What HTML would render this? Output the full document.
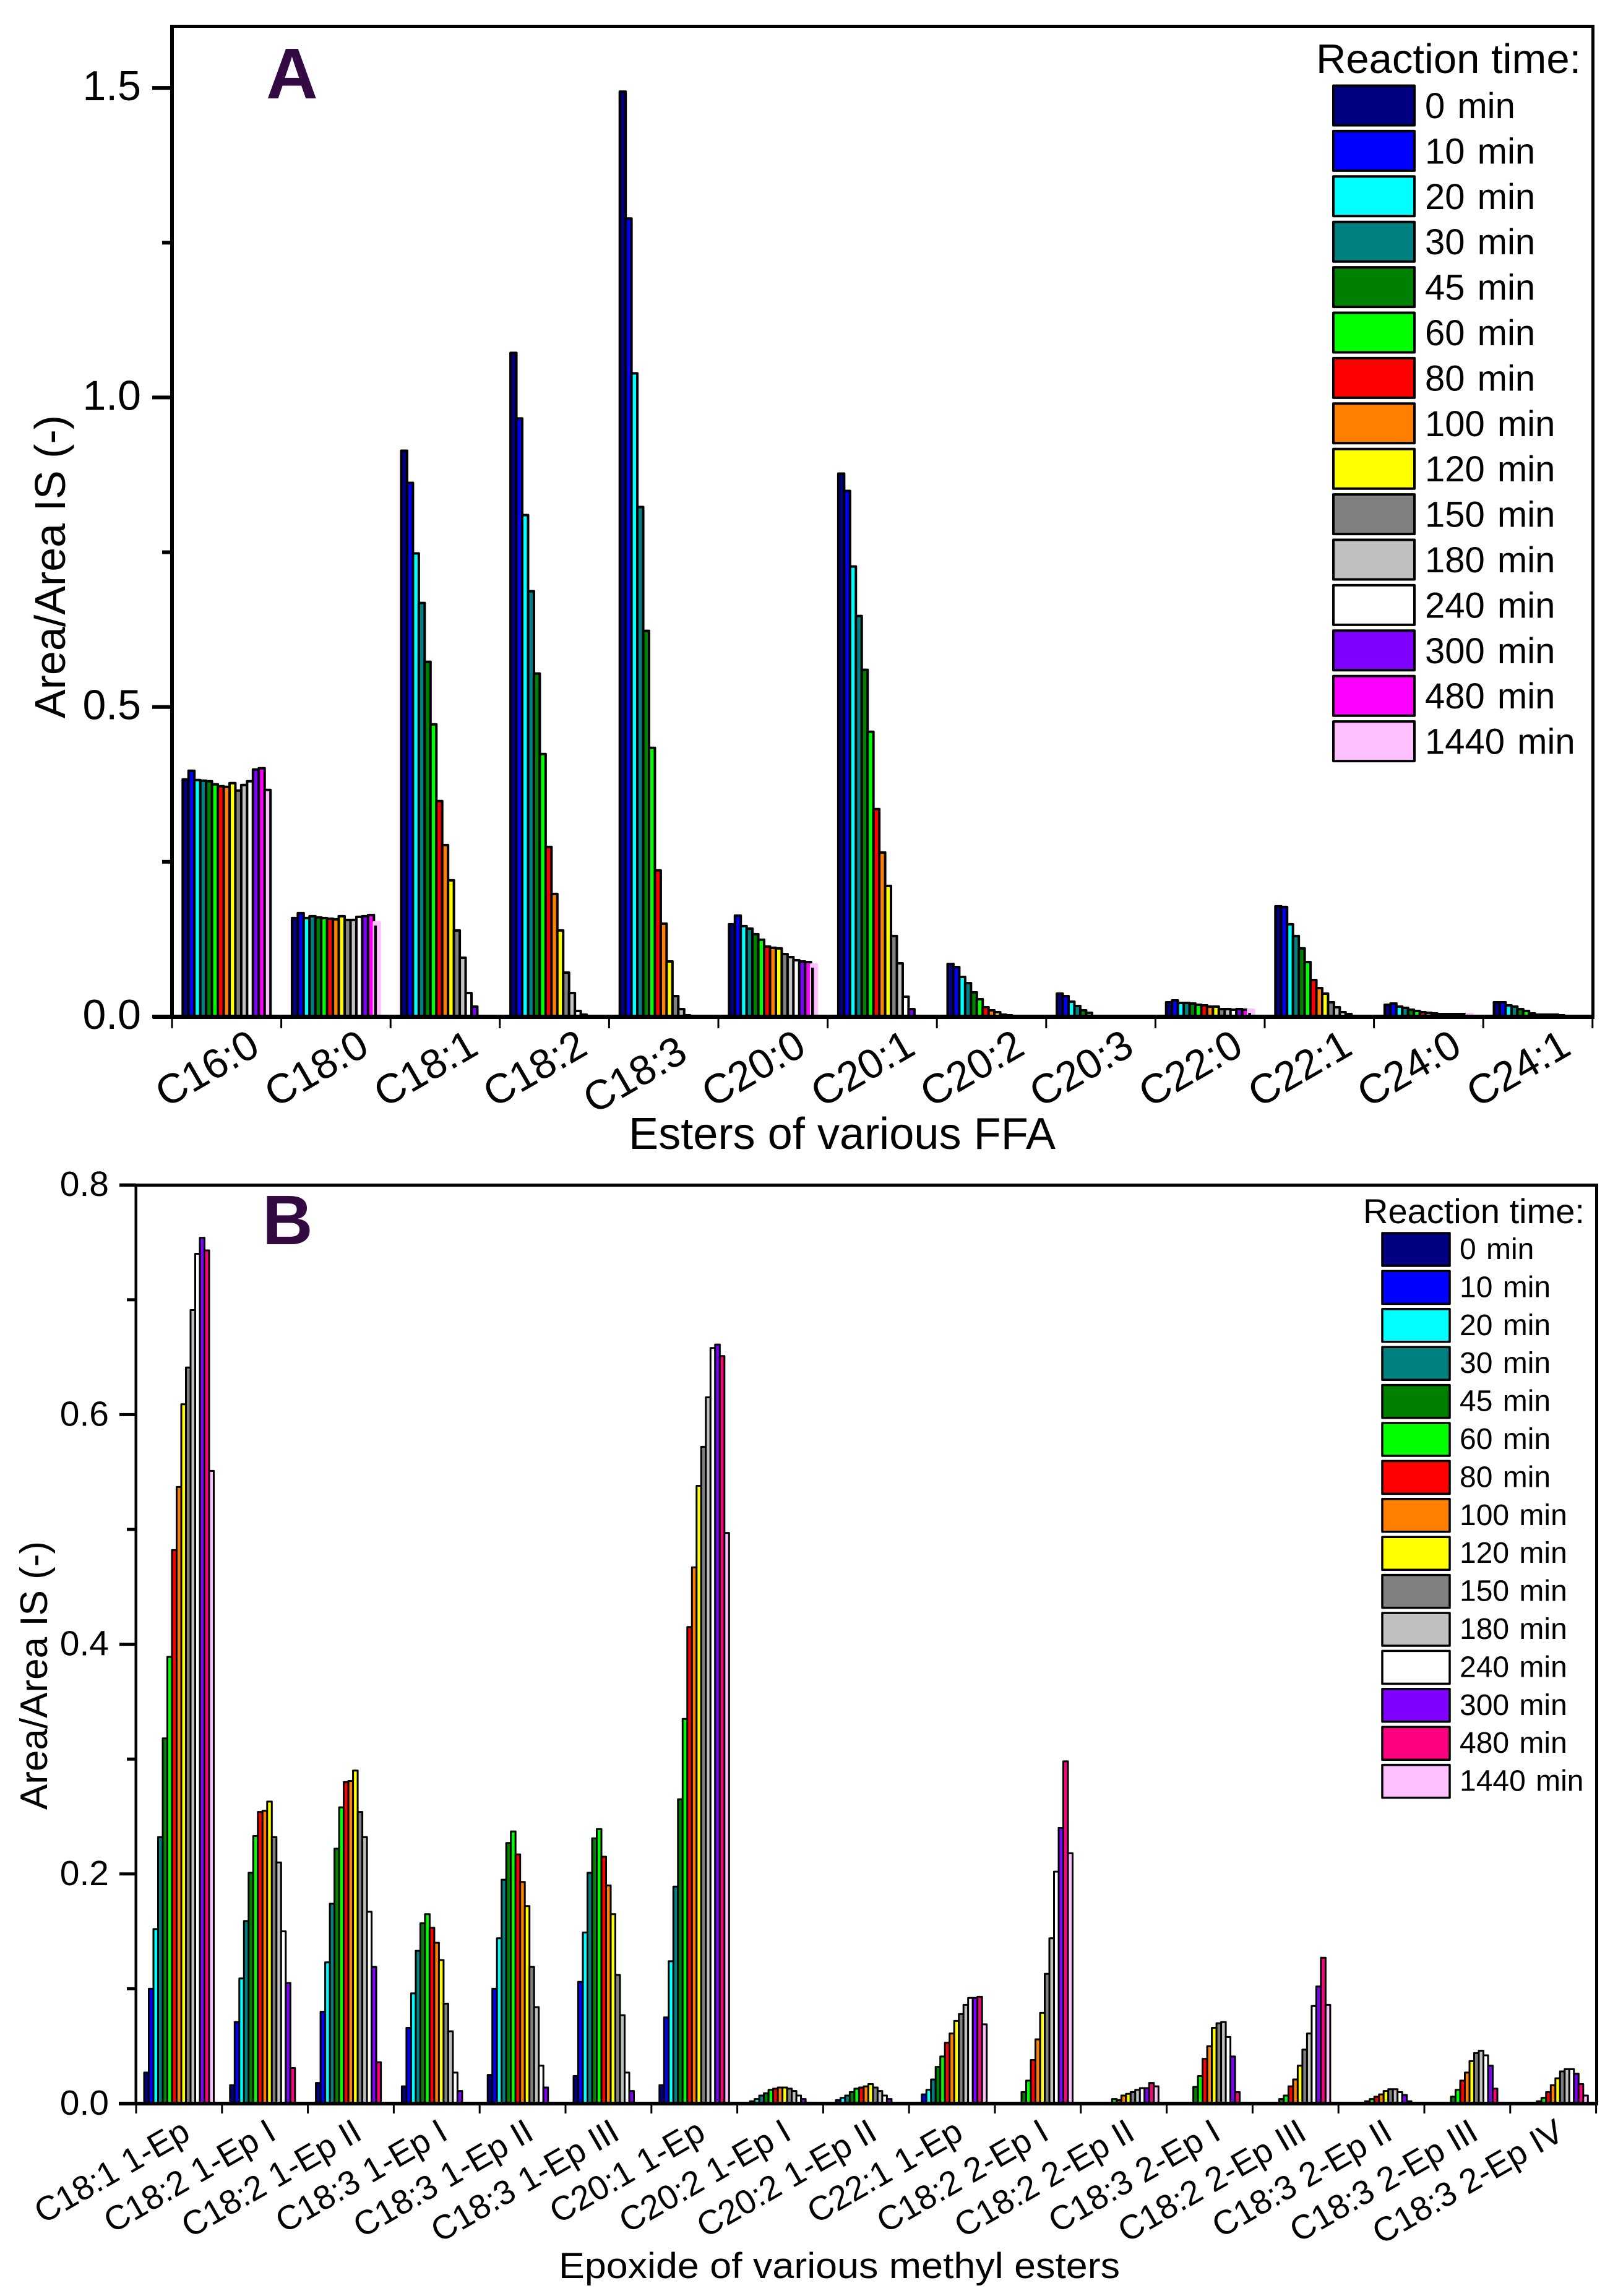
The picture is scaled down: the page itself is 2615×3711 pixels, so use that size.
<!DOCTYPE html>
<html lang="en">
<head>
<meta charset="utf-8">
<title>Reaction time bar charts</title>
<style>
html,body{margin:0;padding:0;background:#fff;}
svg{display:block;}
text{font-family:"Liberation Sans",Arial,sans-serif;fill:#000;}
</style>
</head>
<body>
<svg id="chart" xmlns="http://www.w3.org/2000/svg" width="2615" height="3711" viewBox="0 0 2615 3711">
  <rect x="0" y="0" width="2615" height="3711" fill="#ffffff"/>
  <g id="panelA">
    <g id="barsA"></g>
    <rect x="275" y="40" width="2302" height="5" fill="#000"/>
    <rect x="2572" y="40" width="5" height="1606" fill="#000"/>
    <rect x="275" y="40" width="6" height="1606" fill="#000"/>
    <rect x="247" y="1640" width="2330" height="7" fill="#000"/>
    <g id="axesA"></g>
    <text x="430" y="159" font-size="116" font-weight="bold" style="fill:#340a42">A</text>
    <text x="1016" y="1857" font-size="72" textLength="690" lengthAdjust="spacingAndGlyphs">Esters of various FFA</text>
    <text transform="translate(105 916) rotate(-90)" text-anchor="middle" font-size="70">Area/Area IS (-)</text>
    <text x="2127" y="118" font-size="67">Reaction time:</text>
    <g id="legendA"></g>
  </g>
  <g id="panelB">
    <g id="barsB"></g>
    <rect x="193" y="1913" width="2390" height="5" fill="#000"/>
    <rect x="2578" y="1913" width="5" height="1490" fill="#000"/>
    <rect x="217.5" y="1913" width="4.5" height="1490" fill="#000"/>
    <rect x="192" y="3397" width="2391" height="6" fill="#000"/>
    <g id="axesB"></g>
    <text x="424" y="2011" font-size="113" font-weight="bold" style="fill:#340a42">B</text>
    <text x="903" y="3682" font-size="58" textLength="907" lengthAdjust="spacingAndGlyphs">Epoxide of various methyl esters</text>
    <text transform="translate(76 2708) rotate(-90)" text-anchor="middle" font-size="62">Area/Area IS (-)</text>
    <text x="2203" y="1977" font-size="56">Reaction time:</text>
    <g id="legendB"></g>
  </g>
</svg>
<script>
const times = ["0 min","10 min","20 min","30 min","45 min","60 min","80 min","100 min","120 min","150 min","180 min","240 min","300 min","480 min","1440 min"];
const coloursA = ["#000080","#0000ff","#00ffff","#008080","#008000","#00ff00","#ff0000","#ff8000","#ffff00","#808080","#c0c0c0","#ffffff","#8000ff","#ff00ff","#ffc0ff"];
const coloursB = ["#000080","#0000ff","#00ffff","#008080","#008000","#00ff00","#ff0000","#ff8000","#ffff00","#808080","#c0c0c0","#ffffff","#8000ff","#ff0080","#ffc0ff"];

const categoriesA = ["C16:0","C18:0","C18:1","C18:2","C18:3","C20:0","C20:1","C20:2","C20:3","C22:0","C22:1","C24:0","C24:1"];
const ticksMajorA = [0,0.5,1,1.5];
const ticksMinorA = [0.25,0.75,1.25];
const tickLabelsA = ["0.0","0.5","1.0","1.5"];
const a_C16_0 = [.383,.397,.382,.381,.380,.375,.372,.371,.377,.365,.374,.380,.399,.401,.366];
const a_C18_0 = [.159,.167,.159,.162,.160,.159,.158,.157,.162,.156,.156,.161,.162,.164,.152];
const a_C18_1 = [.914,.862,.748,.668,.573,.472,.348,.277,.220,.139,.095,.038,.016,0,0];
const a_C18_2 = [1.072,.966,.81,.687,.554,.424,.274,.198,.139,.071,.038,.009,.003,0,0];
const a_C18_3 = [1.494,1.289,1.039,.823,.623,.434,.236,.150,.089,.033,.012,.002,0,0,0];
const a_C20_0 = [.149,.163,.146,.142,.133,.124,.113,.111,.110,.101,.096,.091,.089,.088,.084];
const a_C20_1 = [.877,.849,.727,.647,.560,.460,.335,.265,.211,.130,.086,.032,.012,0,0];
const a_C20_2 = [.085,.080,.064,.054,.039,.028,.015,.010,.007,.003,.002,.001,0,0,0];
const a_C20_3 = [.037,.033,.024,.017,.010,.006,.001,0,0,0,0,0,0,0,0];
const a_C22_0 = [.023,.026,.022,.022,.021,.019,.018,.016,.016,.012,.012,.011,.012,.011,.011];
const a_C22_1 = [.178,.177,.149,.130,.110,.088,.059,.046,.037,.023,.015,.007,.004,.001,0];
const a_C24_0 = [.019,.021,.016,.014,.011,.009,.007,.006,.005,.004,.004,.004,.004,.004,.004];
const a_C24_1 = [.023,.023,.018,.016,.012,.009,.005,.003,.003,.003,.003,.002,0,0,0];
const seriesA = [a_C16_0,a_C18_0,a_C18_1,a_C18_2,a_C18_3,a_C20_0,a_C20_1,a_C20_2,a_C20_3,a_C22_0,a_C22_1,a_C24_0,a_C24_1];
const paleOutlineCategoriesA = ["C18:0","C20:0","C22:0","C24:0"];

const categoriesB = ["C18:1 1-Ep","C18:2 1-Ep I","C18:2 1-Ep II","C18:3 1-Ep I","C18:3 1-Ep II","C18:3 1-Ep III","C20:1 1-Ep","C20:2 1-Ep I","C20:2 1-Ep II","C22:1 1-Ep","C18:2 2-Ep I","C18:2 2-Ep II","C18:3 2-Ep I","C18:2 2-Ep III","C18:3 2-Ep II","C18:3 2-Ep III","C18:3 2-Ep IV"];
const ticksMajorB = [0,0.2,0.4,0.6,0.8];
const ticksMinorB = [0.1,0.3,0.5,0.7];
const tickLabelsB = ["0.0","0.2","0.4","0.6","0.8"];
const b_18_1_1 = [.027,.100,.152,.232,.318,.389,.482,.537,.609,.641,.691,.740,.754,.743,.551];
const b_18_2_1a = [.016,.071,.109,.159,.201,.233,.254,.255,.263,.232,.210,.150,.105,.031,0];
const b_18_2_1b = [.018,.080,.123,.174,.222,.258,.280,.281,.290,.254,.232,.167,.119,.036,0];
const b_18_3_1a = [.015,.066,.096,.133,.157,.165,.153,.140,.125,.087,.063,.027,.011,0,0];
const b_18_3_1b = [.025,.100,.144,.195,.227,.237,.217,.193,.172,.119,.084,.033,.014,0,0];
const b_18_3_1c = [.024,.106,.149,.201,.231,.239,.215,.190,.165,.112,.077,.027,.011,0,0];
const b_20_1_1 = [.016,.075,.124,.189,.265,.335,.415,.467,.538,.572,.615,.658,.661,.651,.497];
const b_20_2_1a = [0,.002,.004,.007,.009,.012,.013,.014,.014,.013,.011,.007,.004,0,0];
const b_20_2_1b = [0,.003,.005,.007,.010,.013,.014,.015,.017,.014,.011,.007,.004,0,0];
const b_22_1_1 = [0,.008,.012,.021,.032,.041,.053,.061,.072,.078,.086,.092,.092,.093,.069];
const b_18_2_2a = [0,0,0,0,.010,.020,.038,.056,.079,.113,.144,.202,.240,.298,.218];
const b_18_2_2b = [0,0,0,0,0,.004,.003,.007,.0085,.010,.012,.0135,.0135,.018,.015];
const b_18_3_2a = [0,0,0,0,.0145,.024,.039,.050,.066,.070,.071,.058,.041,.010,0];
const b_18_2_2c = [0,0,0,0,.004,.007,.015,.021,.033,.047,.061,.085,.102,.127,.086];
const b_18_3_2b = [0,0,0,0,.002,.004,.006,.008,.011,.0125,.0125,.010,.0075,.002,0];
const b_18_3_2c = [0,0,0,0,.006,.012,.020,.027,.037,.044,.046,.042,.033,.013,0];
const b_18_3_2d = [0,0,0,0,.002,.005,.010,.016,.022,.028,.030,.030,.026,.017,.007];
const seriesB = [b_18_1_1,b_18_2_1a,b_18_2_1b,b_18_3_1a,b_18_3_1b,b_18_3_1c,b_20_1_1,b_20_2_1a,b_20_2_1b,b_22_1_1,b_18_2_2a,b_18_2_2b,b_18_3_2a,b_18_2_2c,b_18_3_2b,b_18_3_2c,b_18_3_2d];

const NS = "http://www.w3.org/2000/svg";
function make(tag, parent, attrs, text) {
  const el = document.createElementNS(NS, tag);
  for (const k in attrs) el.setAttribute(k, attrs[k]);
  if (text !== undefined) el.textContent = text;
  parent.appendChild(el);
  return el;
}

/* axis functions */
const baseA = 1643, unitA = 1000.6, leftA = 278, stepA = 176.6, barOffsetA = 17.3, barWA = 9.46;
const baseB = 3400, unitB = 1856, leftB = 220, stepB = 138.8, barOffsetB = 13, barWB = 7.5;
const yA = v => baseA - v * unitA;
const yB = v => baseB - v * unitB;
const catA = i => leftA + stepA * i;
const catB = i => leftB + stepB * i;
const barXA = (i, j) => catA(i) + barOffsetA + j * barWA;
const barXB = (i, j) => catB(i) + barOffsetB + j * barWB;

/* Panel A bars */
const barsA = document.getElementById("barsA");
seriesA.forEach((vals, i) => {
  vals.forEach((v, j) => {
    if (v <= 0) return;
    const pale = j === 14 && paleOutlineCategoriesA.includes(categoriesA[i]);
    const el = make("rect", barsA, {
      x: barXA(i, j), y: yA(v), width: barWA, height: baseA - yA(v),
      fill: coloursA[j], stroke: pale ? coloursA[14] : "#000", "stroke-width": 4, "stroke-linejoin": "round"
    });
    
    
    if (pale) {
      const inner = make("line", barsA, {
        x1: barXA(i, j) + 2.5, x2: barXA(i, j) + 2.5, y1: yA(v) + 5, y2: baseA,
        stroke: "#000", "stroke-width": 4.5
      });
      
      
    }
  });
});

/* Panel B bars */
const barsB = document.getElementById("barsB");
seriesB.forEach((vals, i) => {
  vals.forEach((v, j) => {
    if (v <= 0) return;
    const el = make("rect", barsB, {
      x: barXB(i, j), y: yB(v), width: barWB, height: baseB - yB(v),
      fill: coloursB[j], stroke: "#000", "stroke-width": 3, "stroke-linejoin": "round"
    });
    
    
  });
});

/* Panel A axes */
const axesA = document.getElementById("axesA");
ticksMajorA.forEach((v, k) => {
  const t = make("rect", axesA, {x: 246, y: yA(v) - 3, width: 32, height: 6, fill: "#000"});
  
  
  const l = make("text", axesA, {x: 228, y: yA(v) + 20, "text-anchor": "end", "font-size": 68}, tickLabelsA[k]);
  
  
});
ticksMinorA.forEach(v => {
  const t = make("rect", axesA, {x: 262, y: yA(v) - 3, width: 16, height: 6, fill: "#000"});
  
  
});
for (let i = 0; i <= categoriesA.length; i++) {
  const t = make("rect", axesA, {x: catA(i) - 1.5, y: 1646, width: 3, height: 16, fill: "#000"});
  
  
}
categoriesA.forEach((c, i) => {
  const shift = c === "C18:3";
  const x = catA(i + 0.5) + 57 - (shift ? 15 : 0);
  const y = 1702 + (shift ? 10 : 0);
  const l = make("text", axesA, {transform: "translate(" + x + " " + y + ") rotate(-30)", "text-anchor": "end", "font-size": 67}, c);
  
  
});

/* Panel B axes */
const axesB = document.getElementById("axesB");
ticksMajorB.forEach((v, k) => {
  const t = make("rect", axesB, {x: 193, y: yB(v) - 2.5, width: 27, height: 5, fill: "#000"});
  
  
  const l = make("text", axesB, {x: 176, y: yB(v) + 18, "text-anchor": "end", "font-size": 57}, tickLabelsB[k]);
  
  
});
ticksMinorB.forEach(v => {
  const t = make("rect", axesB, {x: 205, y: yB(v) - 2.5, width: 15, height: 5, fill: "#000"});
  
  
});
for (let i = 0; i <= categoriesB.length; i++) {
  const t = make("rect", axesB, {x: catB(i) - 1.5, y: 3402, width: 3, height: 14, fill: "#000"});
  
  
}
categoriesB.forEach((c, i) => {
  const x = catB(i + 0.5) + 21;
  const l = make("text", axesB, {transform: "translate(" + x + " 3456) rotate(-30)", "text-anchor": "end", "font-size": 55}, c);
  
  
});

/* Legends */
const legendA = document.getElementById("legendA");
times.forEach((t, k) => {
  const y = 138.5 + k * 73.4;
  const s = make("rect", legendA, {x: 2155, y: y, width: 131, height: 64, fill: coloursA[k], stroke: "#000", "stroke-width": 4, "stroke-linejoin": "round"});
  
  
  const l = make("text", legendA, {x: 2303, y: y + 52.5, "font-size": 58, "word-spacing": 4}, t);
  
  
});
const legendB = document.getElementById("legendB");
times.forEach((t, k) => {
  const y = 1993 + k * 61.4;
  const s = make("rect", legendB, {x: 2234, y: y, width: 109, height: 53, fill: coloursB[k], stroke: "#000", "stroke-width": 3.5, "stroke-linejoin": "round"});
  
  
  const l = make("text", legendB, {x: 2359, y: y + 42, "font-size": 48, "word-spacing": 3}, t);
  
  
});
</script>
</body>
</html>
